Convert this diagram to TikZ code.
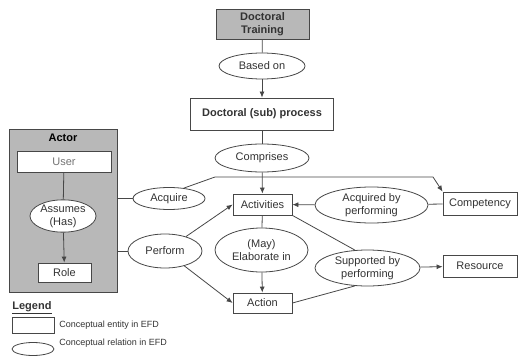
\documentclass[tikz,border=0pt]{standalone}
\usepackage{fontspec}
\setmainfont{Liberation Sans}
\usetikzlibrary{shapes.geometric,arrows.meta}
\colorlet{boxgrey}{black!28}
\colorlet{inkgrey}{black!72}
\tikzset{entity/.style={draw=inkgrey,fill=white,rectangle,inner sep=0pt,text=black!80},
         relation/.style={draw=black!60,fill=white,ellipse,inner sep=0pt,align=center,text=black!80},
         legtext/.style={anchor=west,inner sep=0pt,text=black!80,font=\fontsize{9}{10}\selectfont}
}

\begin{document}
\begin{tikzpicture}[x=1pt,y=-1pt,line width=0.8pt,>={Latex[length=6pt,width=5pt]},
    draw/.append style={inkgrey},font=\fontsize{11}{13}\selectfont]
  \useasboundingbox (0,0) rectangle (518,358);
  % actor frame
  \node[entity,fill=boxgrey,minimum width=108,minimum height=163](actor) at (63,210.5){};
  \node[inner sep=0pt,font=\fontsize{11}{13}\selectfont\bfseries](actortitle) at (63,138){Actor};
  \node[entity,minimum width=94,minimum height=21,text=black!55](user) at (64,161.5){User};
  \node[relation,minimum width=66,minimum height=29](assumes) at (63,216){Assumes\\(Has)};
  \node[entity,minimum width=53,minimum height=19](role) at (64.5,272.5){Role};
  % main column
  \node[entity,fill=boxgrey,minimum width=93,minimum height=30,align=center,
        font=\fontsize{11}{13}\selectfont\bfseries](train) at (262.5,24){Doctoral\\Training};
  \node[relation,minimum width=86,minimum height=26](basedon) at (262,66){Based on};
  \node[entity,minimum width=143,minimum height=32,
        font=\fontsize{11}{13}\selectfont\bfseries](process) at (262,114){Doctoral (sub) process};
  \node[relation,minimum width=94,minimum height=28](comprises) at (262,158){Comprises};
  \node[entity,minimum width=59,minimum height=21](activ) at (262.5,204.5){Activities};
  \node[relation,minimum width=93,minimum height=44](elab) at (261.5,250){(May)\\Elaborate in};
  \node[entity,minimum width=59,minimum height=20](action) at (262.5,303){Action};
  % left relations
  \node[relation,minimum width=72,minimum height=22](acquire) at (169,198.5){Acquire};
  \node[relation,minimum width=74,minimum height=34](perform) at (165,251){Perform};
  % right side
  \node[relation,minimum width=113,minimum height=36](acqperf) at (371.5,205){Acquired by\\performing};
  \node[relation,minimum width=105,minimum height=36](supperf) at (367.5,268){Supported by\\performing};
  \node[entity,minimum width=74,minimum height=23](compet) at (480,203.5){Competency};
  \node[entity,minimum width=74,minimum height=22](resource) at (480,266){Resource};
  \coordinate(bendA) at (215,177);
  \coordinate(bendB) at (433,177);
  % connectors
  \draw(train)--(basedon);
  \draw[->](basedon)--(process);
  \draw(process)--(comprises);
  \draw[->](comprises)--(activ);
  \draw(user)--(assumes);
  \draw[->](assumes)--(role);
  \draw(acquire.west-|actor.east)--(acquire);
  \draw(perform.west-|actor.east)--(perform);
  \draw[->](acquire.35)--(bendA)--(bendB)--(compet.north west);
  \draw[->](perform)--(activ.west);
  \draw[->](perform)--(action.west);
  \draw(activ)--(elab);
  \draw[->](elab)--(action);
  \draw(compet)--(acqperf);
  \draw[->](acqperf)--(activ);
  \draw(activ.south east)--(supperf.125);
  \draw(action.east)--(supperf.235);
  \draw[->](supperf)--(resource);
  % legend
  \node[anchor=west,inner sep=0pt,text=black!80,
        font=\fontsize{11}{13}\selectfont\bfseries](legend) at (12,308){\underline{Legend}};
  \node[entity,minimum width=42,minimum height=16](legbox) at (33,325){};
  \node[legtext](legboxtext) at (59,325){Conceptual entity in EFD};
  \node[relation,minimum width=42,minimum height=13](legell) at (33,349){};
  \node[legtext](legelltext) at (59,343){Conceptual relation in EFD};
\end{tikzpicture}
\end{document}
